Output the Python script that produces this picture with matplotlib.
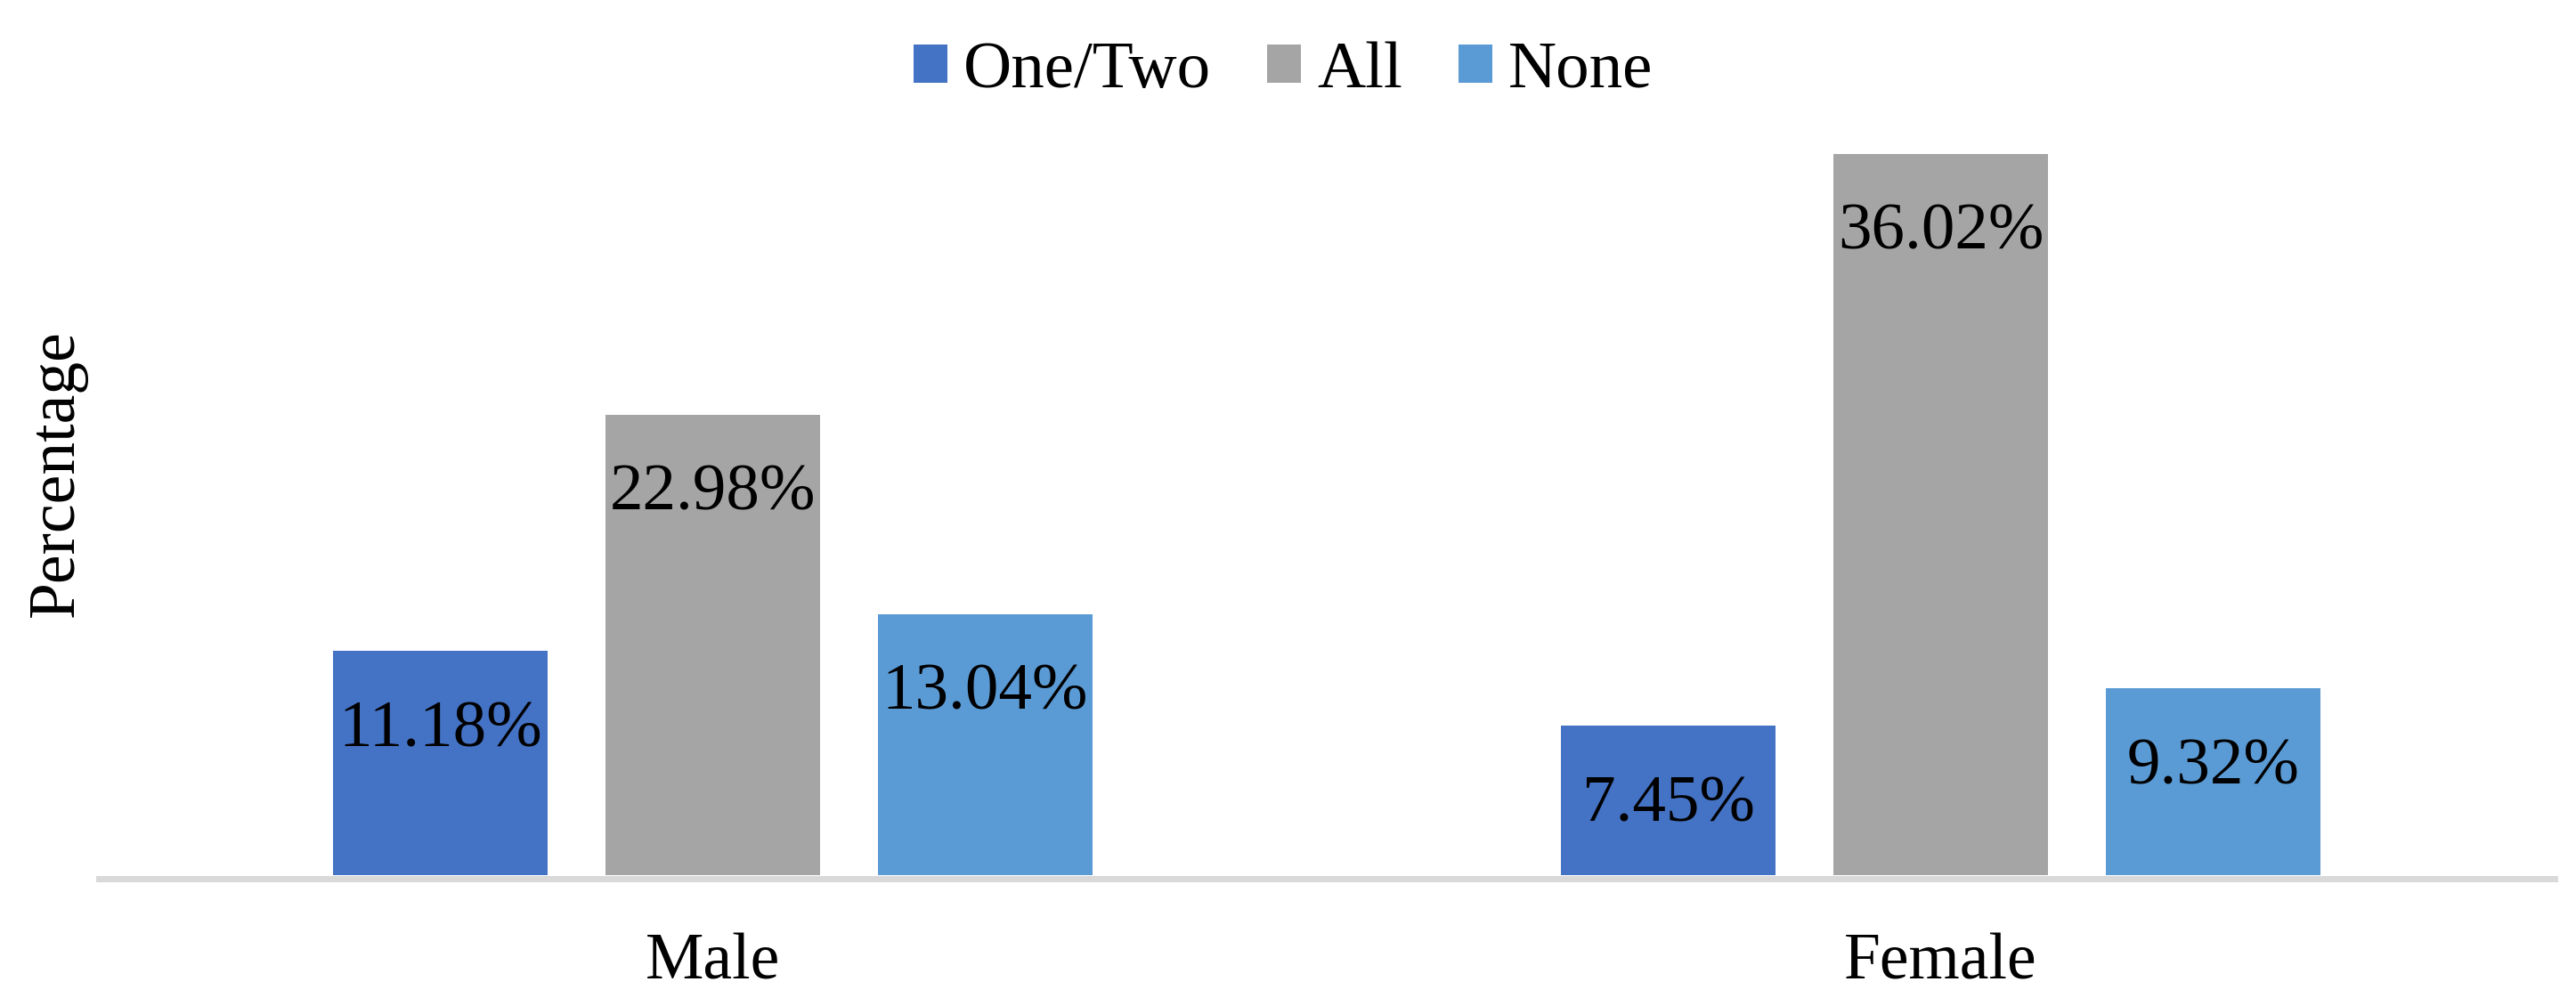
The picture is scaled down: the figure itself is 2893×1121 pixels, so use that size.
import numpy as np
from matplotlib import pyplot as plt

groups = ['Male', 'Female']
series = ['One/Two', 'All', 'None']
one_two = [11.18, 7.45]
all_ = [22.98, 36.02]
none = [13.04, 9.32]
colors = ['#4472C4', '#A5A5A5', '#5B9BD5']

plt.rcParams['font.family'] = ['Liberation Serif', 'DejaVu Serif']

fig = plt.figure(figsize=(28.93, 11.21), dpi=100)
ax = fig.add_axes([0.03837, 0.11998, 0.95333, 0.806])

x = np.arange(len(groups))
width = 0.175
step = 0.2217
for i, (name, vals) in enumerate(zip(series, [one_two, all_, none])):
    bars = ax.bar(x + (i - 1) * step, vals, width, color=colors[i], label=name, zorder=2)
    for b, v in zip(bars, vals):
        ax.annotate(f'{v:.2f}%', (b.get_x() + b.get_width() / 2, v),
                    xytext=(0, -77), textcoords='offset points',
                    ha='center', va='baseline', fontsize=54, color='black', zorder=3)

ax.set_xlim(-0.5, 1.5)
ax.set_ylim(-0.155, 40)
ax.set_xticks(x)
ax.set_xticklabels(groups, fontsize=53)
ax.tick_params(axis='x', length=0, pad=44)
ax.set_yticks([])
for s in ['top', 'right', 'left']:
    ax.spines[s].set_visible(False)
ax.spines['bottom'].set_color('#D9D9D9')
ax.spines['bottom'].set_linewidth(5.04)
ax.spines['bottom'].set_zorder(1)

fig.text(64 / 2893, 1 - 532 / 1121, 'Percentage', rotation=90,
         ha='center', va='center', fontsize=53)

fig.legend(loc='center', bbox_to_anchor=(1441 / 2893, 1 - 80 / 1121), ncol=3,
           frameon=False, fontsize=54, handlelength=0.507, handleheight=0.507,
           handletextpad=0.24, columnspacing=0.84, borderpad=0, borderaxespad=0)

fig.savefig('out.png', dpi=100)
